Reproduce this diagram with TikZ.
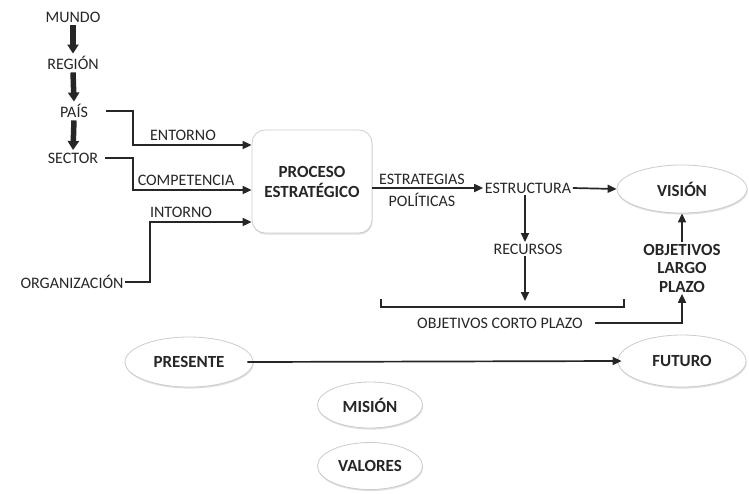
\documentclass[tikz,border=0pt]{standalone}
\usepackage{fontspec}
\setmainfont{Carlito}
\usetikzlibrary{arrows.meta,shapes.geometric,shadows}
\definecolor{ink}{HTML}{262626}
\begin{document}
\begin{tikzpicture}[x=1pt,y=-1pt,
  lbl/.style={inner sep=1.5pt, text=ink, font=\fontsize{16}{19}\selectfont},
  blbl/.style={inner sep=1.5pt, text=ink, font=\fontsize{17}{20}\selectfont\bfseries},
  oval/.style={ellipse, blbl, fill=white, draw=black!20, line width=0.8pt,
    inner sep=0pt, drop shadow={opacity=0.25, shadow xshift=0.6pt, shadow yshift=-1.6pt}},
  procbox/.style={rectangle, rounded corners=13pt, blbl, align=center, fill=white,
    draw=black!20, line width=0.8pt, minimum width=120pt, minimum height=103pt,
    drop shadow={opacity=0.25, shadow xshift=0.6pt, shadow yshift=-1.6pt}},
  conn/.style={draw=ink, line width=1.7pt},
  arr/.style={conn, -{Triangle[length=9pt,width=8pt]}},
  bigarr/.style={draw=ink, line width=5.5pt, -{Triangle[length=9pt,width=11pt]}}
]
\useasboundingbox (0,0) rectangle (749,493);

% --- environment chain on the left
\node[lbl] (mundo)  at (73,17)  {MUNDO};
\node[lbl] (region) at (73,63)  {REGIÓN};
\node[lbl] (pais)   at (74,111) {PAÍS};
\node[lbl] (sector) at (73,158) {SECTOR};
\node[lbl] (org)    at (72,282) {ORGANIZACIÓN};

\draw[bigarr, shorten <=1pt, shorten >=1pt] (mundo.south)  -- (region.north);
\draw[bigarr, shorten <=1pt, shorten >=1pt] (region.south) -- (pais.north);
\draw[bigarr, shorten <=1pt, shorten >=1pt] (pais.south)   -- (sector.north);

% --- central process
\node[procbox] (proc) at (312,181.5) {PROCESO\\ESTRATÉGICO};

\coordinate (j1) at (133,145);
\coordinate (j2) at (133,190);
\coordinate (j3) at (150,222);
\draw[arr] (pais.east) ++(16,0) -| (j1) -- (proc.west |- j1);
\draw[arr] (sector.east) ++(5,0) -| (j2) -- (proc.west |- j2);
\draw[arr] (org.east) -| (j3) -- (proc.west |- j3);

\node[lbl] (entorno) at (183,135) {ENTORNO};
\node[lbl] (compet)  at (186,180) {COMPETENCIA};
\node[lbl] (intorno) at (181,212) {INTORNO};

% --- structure, resources and objectives
\node[lbl] (estr)  at (528,188) {ESTRUCTURA};
\node[lbl] (recur) at (528,249) {RECURSOS};
\node[oval, minimum width=130pt, minimum height=48pt] (vis) at (682,189) {VISIÓN};

\draw[arr] (proc.east |- estr) -- (estr.west);
\node[lbl] (estrat) at (422,179) {ESTRATEGIAS};
\node[lbl] (polit)  at (422,200) {POLÍTICAS};

\draw[arr] (estr.east) -- (vis.west);
\draw[arr] (estr.south -| 525,0) -- (recur.north -| 525,0);

\coordinate (bl) at (381,299);
\coordinate (br) at (624,299);
\coordinate (bmid) at (525,301);
\draw[conn, line width=1.3pt] (bl) -- ++(0,8) -| (br);
\draw[arr] (recur.south -| bmid) -- (bmid);

\node[lbl] (corto) at (500,323) {OBJETIVOS CORTO PLAZO};
\node[blbl, align=center, font=\fontsize{17}{18.5}\selectfont\bfseries] (olp) at (682,268) {OBJETIVOS\\LARGO\\PLAZO};

\draw[arr] (corto.east) ++(10,0) -| (olp.south);
\draw[arr] (olp.north) -- (vis.south);

% --- time line and foundations
\node[oval, minimum width=128pt, minimum height=50pt] (pres) at (189,362) {PRESENTE};
\node[oval, minimum width=128pt, minimum height=52pt] (fut)  at (682,361) {FUTURO};
\node[oval, minimum width=105pt, minimum height=46pt] (mis)  at (370,405) {MISIÓN};
\node[oval, minimum width=105pt, minimum height=47pt] (val)  at (370,466) {VALORES};

\draw[arr, shorten <=-6pt, shorten >=-4pt] (pres.east) -- (fut.west);
\end{tikzpicture}
\end{document}
